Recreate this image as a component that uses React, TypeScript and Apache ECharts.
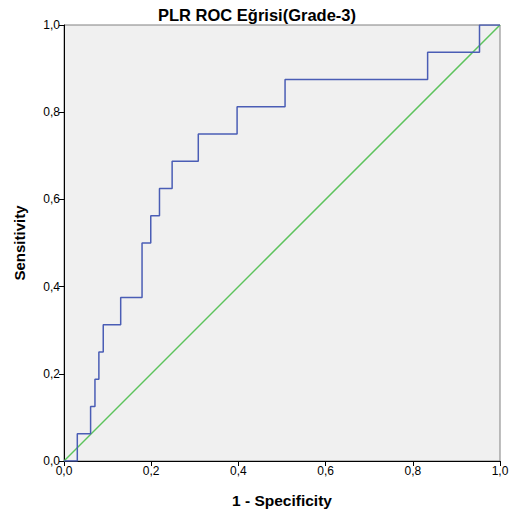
import React, { useEffect, useRef } from "react";
import * as echarts from "echarts";

const fpr = [0, 0.0305, 0.061, 0.071, 0.08, 0.09, 0.13, 0.179, 0.199, 0.219, 0.248, 0.308, 0.397, 0.507, 0.834, 0.953, 1.0];
const tpr = [0, 0.0625, 0.125, 0.1875, 0.25, 0.3125, 0.375, 0.5, 0.5625, 0.625, 0.6875, 0.75, 0.8125, 0.875, 0.9375, 1.0, 1.0];
const refX = [0, 1];
const refY = [0, 1];
const titleText = "PLR ROC Eğrisi(Grade-3)";
const xName = "1 - Specificity";
const yName = "Sensitivity";

export default function App() {
  const ref = useRef<HTMLDivElement>(null);
  useEffect(() => {
    const chart = echarts.init(ref.current!, null, { renderer: "svg" });
    const font = "'Liberation Sans', Arial, sans-serif";
    const fmt = (v: number) => v.toFixed(1).replace(".", ",");
    chart.setOption({
      animation: false,
      backgroundColor: "#ffffff",
      title: {
        text: titleText,
        left: 252,
        textAlign: "center",
        top: 1,
        textStyle: { fontFamily: font, fontSize: 16.5, fontWeight: "bold", color: "#000" },
      },
      grid: {
        left: 64,
        right: 17,
        top: 25,
        bottom: 59,
        show: true,
        backgroundColor: "#f0f0f0",
        borderColor: "#808080",
        borderWidth: 1,
      },
      xAxis: {
        type: "value",
        min: 0,
        max: 1,
        interval: 0.2,
        name: xName,
        nameLocation: "middle",
        nameGap: 31,
        nameTextStyle: { fontFamily: font, fontSize: 15.5, fontWeight: "bold", color: "#000" },
        axisLine: { show: true, lineStyle: { color: "#000", width: 1 } },
        axisTick: { show: true, length: 5, lineStyle: { color: "#000" } },
        axisLabel: { formatter: fmt, fontFamily: font, fontSize: 12, color: "#000", margin: 4 },
        splitLine: { show: false },
      },
      yAxis: {
        type: "value",
        min: 0,
        max: 1,
        interval: 0.2,
        name: yName,
        nameLocation: "middle",
        nameGap: 37,
        nameTextStyle: { fontFamily: font, fontSize: 15, fontWeight: "bold", color: "#000" },
        axisLine: { show: true, lineStyle: { color: "#000", width: 1 } },
        axisTick: { show: true, length: 5, lineStyle: { color: "#000" } },
        axisLabel: { formatter: fmt, fontFamily: font, fontSize: 12, color: "#000", margin: 4 },
        splitLine: { show: false },
      },
      series: [
        {
          type: "line",
          data: refX.map((x, i) => [x, refY[i]]),
          showSymbol: false,
          lineStyle: { color: "#5cc35c", width: 1.5 },
          silent: true,
        },
        {
          type: "line",
          step: "end",
          data: fpr.map((x, i) => [x, tpr[i]]),
          showSymbol: false,
          lineStyle: { color: "#4a5db5", width: 1.5 },
          silent: true,
        },
      ],
    });
    return () => chart.dispose();
  }, []);
  return <div ref={ref} style={{ width: 517, height: 520, position: "absolute", left: 0, top: 0 }} />;
}
